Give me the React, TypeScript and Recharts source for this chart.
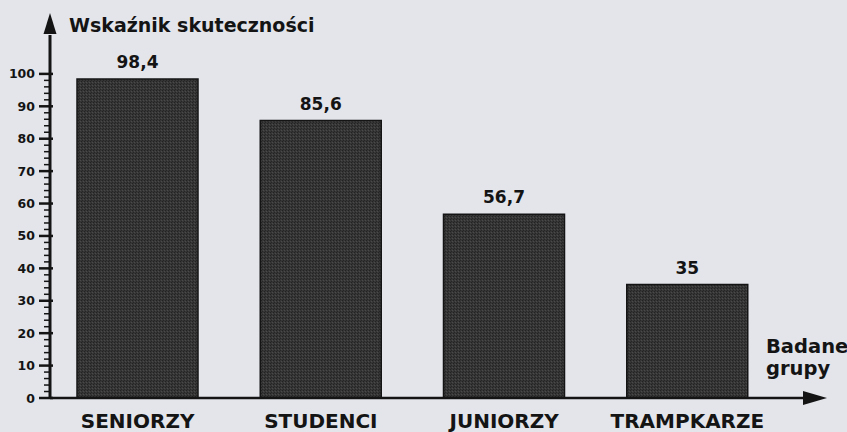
import React from 'react';
import { BarChart, Bar, XAxis, YAxis, LabelList } from 'recharts';

// values
const groups = ['SENIORZY', 'STUDENCI', 'JUNIORZY', 'TRAMPKARZE'];
const scores = [98.4, 85.6, 56.7, 35];
const scoreLabels = ['98,4', '85,6', '56,7', '35'];

const majorTicks = [0, 10, 20, 30, 40, 50, 60, 70, 80, 90, 100];
const yTicks = [
  0, 2, 4, 6, 8, 10, 12, 14, 16, 18, 20, 22, 24, 26, 28, 30, 32, 34, 36, 38, 40,
  42, 44, 46, 48, 50, 52, 54, 56, 58, 60, 62, 64, 66, 68, 70, 72, 74, 76, 78, 80,
  82, 84, 86, 88, 90, 92, 94, 96, 98, 100,
];

const yTitle = 'Wskaźnik skuteczności';
const xTitle = ['Badane', 'grupy'];

const data = groups.map((group, i) => ({
  group,
  score: scores[i],
  label: scoreLabels[i],
}));

const W = 847;
const H = 432;
const PLOT_LEFT = 50;
const PLOT_TOP = 35;
const PLOT_RIGHT = 805;
const PLOT_BOTTOM = 398;

const FONT = '"DejaVu Sans", Verdana, sans-serif';
const INK = '#141414';
const PAPER = '#e3e5eb';

const YTick = (props: any) => {
  const { x, y, payload } = props;
  const major = majorTicks.includes(payload.value);
  return (
    <g>
      <line
        x1={major ? x - 11 : x - 6}
        x2={major ? x + 3 : x}
        y1={y}
        y2={y}
        stroke={INK}
        strokeWidth={major ? 2.5 : 1.5}
      />
      {major && (
        <text
          x={x - 15}
          y={y + 4.5}
          textAnchor="end"
          fontFamily={FONT}
          fontWeight="bold"
          fontSize={12.5}
          fill={INK}
        >
          {payload.value}
        </text>
      )}
    </g>
  );
};

const XTick = (props: any) => {
  const { x, y, payload } = props;
  return (
    <text
      x={x}
      y={y + 29.5}
      textAnchor="middle"
      fontFamily={FONT}
      fontWeight="bold"
      fontSize={20}
      fill={INK}
    >
      {payload.value}
    </text>
  );
};

export default function App() {
  return (
    <div
      style={{
        position: 'absolute',
        left: 0,
        top: 0,
        width: W,
        height: H,
        background: PAPER,
        overflow: 'hidden',
      }}
    >
      {/* stipple texture for the bars */}
      <svg width={0} height={0} style={{ position: 'absolute' }}>
        <defs>
          <pattern id="stipple" width={3} height={3} patternUnits="userSpaceOnUse">
            <rect width={3} height={3} fill="#363636" />
            <rect width={1} height={1} fill="#222" />
            <rect x={2} y={1} width={1} height={1} fill="#4a4a4a" />
            <rect x={1} y={2} width={1} height={1} fill="#262626" />
          </pattern>
        </defs>
      </svg>

      <BarChart
        width={W}
        height={H}
        data={data}
        margin={{ top: PLOT_TOP, right: W - PLOT_RIGHT, bottom: 0, left: 0 }}
      >
        <XAxis
          dataKey="group"
          height={H - PLOT_BOTTOM}
          padding={{ left: -4, right: 26 }}
          axisLine={{ stroke: INK, strokeWidth: 2.5 }}
          tickLine={false}
          tickSize={0}
          tickMargin={0}
          tick={<XTick />}
          interval={0}
        />
        <YAxis
          width={PLOT_LEFT}
          domain={[0, 112]}
          ticks={yTicks}
          interval={0}
          axisLine={{ stroke: INK, strokeWidth: 3 }}
          tickLine={false}
          tickSize={0}
          tickMargin={0}
          tick={<YTick />}
        />
        <Bar
          dataKey="score"
          barSize={121}
          fill="url(#stipple)"
          stroke={INK}
          strokeWidth={1.5}
          isAnimationActive={false}
        >
          <LabelList
            dataKey="label"
            position="top"
            offset={11}
            fill={INK}
            fontFamily={FONT}
            fontWeight="bold"
            fontSize={17}
          />
        </Bar>
      </BarChart>

      {/* axis arrows and axis titles */}
      <svg
        width={W}
        height={H}
        style={{ position: 'absolute', left: 0, top: 0, pointerEvents: 'none' }}
      >
        <polygon
          points={`${PLOT_LEFT},13 ${PLOT_LEFT - 6.5},${PLOT_TOP - 1} ${PLOT_LEFT + 6.5},${PLOT_TOP - 1}`}
          fill={INK}
        />
        <polygon
          points={`827,${PLOT_BOTTOM} ${PLOT_RIGHT - 2},${PLOT_BOTTOM - 7} ${PLOT_RIGHT - 2},${PLOT_BOTTOM + 7}`}
          fill={INK}
        />
        <text x={69} y={32} fontFamily={FONT} fontWeight="bold" fontSize={19} fill={INK}>
          {yTitle}
        </text>
        <text x={766} y={353} fontFamily={FONT} fontWeight="bold" fontSize={19.5} fill={INK}>
          {xTitle[0]}
        </text>
        <text x={766} y={375} fontFamily={FONT} fontWeight="bold" fontSize={19.5} fill={INK}>
          {xTitle[1]}
        </text>
      </svg>
    </div>
  );
}
